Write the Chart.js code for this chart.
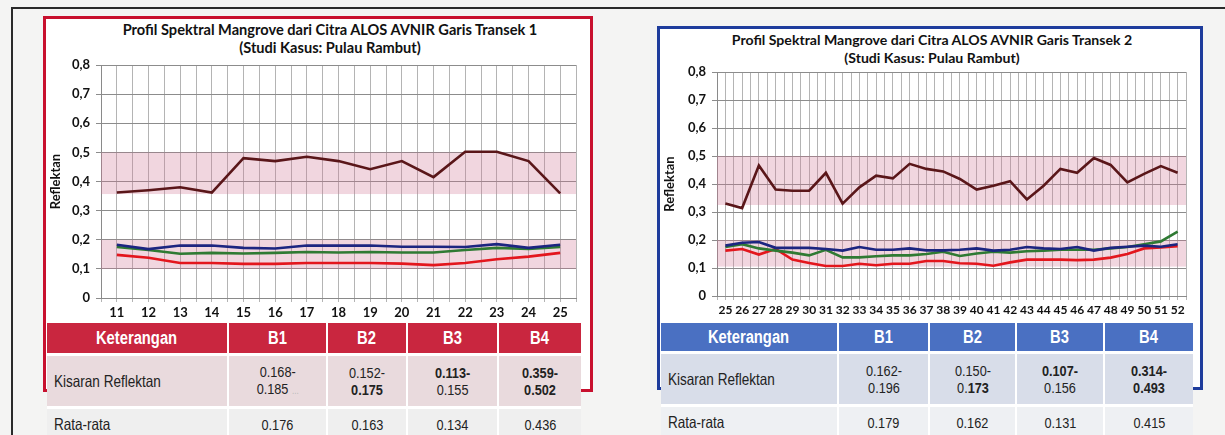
<!DOCTYPE html>
<html><head><meta charset="utf-8">
<script src="https://cdn.jsdelivr.net/npm/chart.js@4"></script>
<style>
html,body{margin:0;padding:0;}
body{width:1225px;height:435px;position:relative;overflow:hidden;background:#f4f4f3;font-family:Lato,"Open Sans",sans-serif;}
.frame{position:absolute;left:11px;top:7px;width:1230px;height:440px;border-left:2px solid #2a2a2a;border-top:2px solid #2a2a2a;}
.box{position:absolute;background:#fff;box-sizing:border-box;}
#box1{left:43px;top:16px;width:550px;height:376px;border:3px solid #c8102e;}
#box2{left:657px;top:26px;width:546px;height:364px;border:3px solid #1e3c9c;}
.cv{position:absolute;}
.title{position:absolute;text-align:center;font-weight:bold;color:#111;line-height:18px;white-space:nowrap;}
.tbl{position:absolute;display:grid;column-gap:2px;row-gap:3px;background:#fff;font-family:"Liberation Sans",Arial,sans-serif;color:#222;}
.tbl > div{display:flex;align-items:center;justify-content:center;text-align:center;font-size:15.5px;line-height:17px;overflow:hidden;}
.tbl > div > span{display:block;transform:scaleX(0.82);white-space:nowrap;}
.tbl .hd{color:#fff;font-weight:bold;font-size:18px;}
.tbl .lb{justify-content:flex-start;padding-left:7px;font-size:16.5px;}
.tbl .lb > span{transform-origin:left center;}
.t1 .hd{background:#c9263f;}
.t1 .r2{background:#e9dadd;}
.t1 .r3{background:#efefef;}
.t2 .hd{background:#4a70c2;}
.t2 .r2{background:#d8dde9;}
.t2 .r3{background:#eef0f3;}
.dots{color:#bbb;font-size:10px;}
</style></head>
<body>
<div class="frame"></div>
<div class="box" id="box1"></div>
<div class="box" id="box2"></div>
<div class="title" style="left:100px;width:460px;top:21px;font-size:14.6px;">Profil Spektral Mangrove dari Citra ALOS AVNIR Garis Transek 1<br>(Studi Kasus: Pulau Rambut)</div>
<div class="title" style="left:702px;width:460px;top:31px;font-size:14.1px;">Profil Spektral Mangrove dari Citra ALOS AVNIR Garis Transek 2<br>(Studi Kasus: Pulau Rambut)</div>
<canvas id="c1" class="cv" style="left:48px;top:22px;" width="540" height="300"></canvas>
<canvas id="c2" class="cv" style="left:662px;top:29px;" width="534" height="293"></canvas>
<div class="tbl t1" id="t1" style="left:47px;top:323px;grid-template-columns:180px 97px 78px 89px 82px;grid-template-rows:30px 50px 30px;"></div>
<div class="tbl t2" id="t2" style="left:661px;top:323px;grid-template-columns:176px 89px 85px 86px 88px;grid-template-rows:28px 50px 30px;"></div>
<script>
// ---------- data ----------
const categories1 = [11,12,13,14,15,16,17,18,19,20,21,22,23,24,25];
const b1_t1 = [0.183,0.168,0.180,0.180,0.172,0.170,0.180,0.180,0.180,0.176,0.176,0.175,0.185,0.172,0.183];
const b2_t1 = [0.175,0.165,0.152,0.155,0.153,0.155,0.158,0.156,0.158,0.156,0.156,0.165,0.172,0.168,0.175];
const b3_t1 = [0.148,0.138,0.120,0.120,0.117,0.117,0.120,0.120,0.120,0.118,0.113,0.120,0.133,0.142,0.155];
const b4_t1 = [0.362,0.370,0.380,0.362,0.480,0.470,0.485,0.470,0.442,0.470,0.415,0.502,0.502,0.470,0.359];

const categories2 = [25,26,27,28,29,30,31,32,33,34,35,36,37,38,39,40,41,42,43,44,45,46,47,48,49,50,51,52];
const b1_t2 = [0.180,0.190,0.193,0.172,0.172,0.172,0.168,0.162,0.175,0.165,0.165,0.170,0.163,0.163,0.165,0.170,0.162,0.165,0.175,0.170,0.168,0.175,0.162,0.172,0.176,0.180,0.176,0.185];
const b2_t2 = [0.175,0.185,0.170,0.162,0.155,0.145,0.165,0.138,0.138,0.142,0.145,0.145,0.150,0.158,0.143,0.152,0.158,0.155,0.160,0.162,0.165,0.165,0.165,0.170,0.175,0.185,0.195,0.230];
const b3_t2 = [0.162,0.168,0.148,0.168,0.130,0.118,0.107,0.107,0.115,0.110,0.115,0.115,0.125,0.125,0.117,0.115,0.108,0.120,0.130,0.130,0.130,0.128,0.130,0.137,0.150,0.170,0.173,0.178];
const b4_t2 = [0.330,0.314,0.466,0.380,0.376,0.376,0.440,0.330,0.388,0.430,0.420,0.472,0.454,0.445,0.418,0.380,0.394,0.410,0.345,0.394,0.454,0.440,0.493,0.468,0.406,0.436,0.464,0.440];

const yTickLabels = ['0','0,1','0,2','0,3','0,4','0,5','0,6','0,7','0,8'];
const bands1 = [[0.100,0.200],[0.357,0.500]];
const bands2 = [[0.105,0.200],[0.325,0.500]];

const seriesNames = ['B1','B2','B3','B4'];
const seriesColors = ['#1c2580','#2f7a33','#e3161d','#5a1619'];

const tableHeader = ['Keterangan','B1','B2','B3','B4'];
const rowLabels = ['Kisaran Reflektan','Rata-rata'];
const rangeLo1 = ['0.168-','0.152-','<b>0.113-</b>','<b>0.359-</b>'];
const rangeHi1 = ['0.185 <span class="dots">...</span>','<b>0.175</b>','0.155','<b>0.502</b>'];
const mean1 = ['0.176','0.163','0.134','0.436'];
const rangeLo2 = ['0.162-','0.150-','<b>0.107-</b>','<b>0.314-</b>'];
const rangeHi2 = ['0.196','0.<b>173</b>','0.156','<b>0.493</b>'];
const mean2 = ['0.179','0.162','0.131','0.415'];

// ---------- tables ----------
function buildTable(id, lo, hi, mean){
  const el = document.getElementById(id);
  let h = '';
  tableHeader.forEach(t => h += '<div class="hd"><span>'+t+'</span></div>');
  h += '<div class="r2 lb"><span>'+rowLabels[0]+'</span></div>';
  lo.forEach((v,i) => h += '<div class="r2"><span>'+v+'<br>'+hi[i]+'</span></div>');
  h += '<div class="r3 lb"><span>'+rowLabels[1]+'</span></div>';
  mean.forEach(v => h += '<div class="r3"><span>'+v+'</span></div>');
  el.innerHTML = h;
}
buildTable('t1', rangeLo1, rangeHi1, mean1);
buildTable('t2', rangeLo2, rangeHi2, mean2);

// ---------- charts ----------
const bandPlugin = {
  id:'bands',
  beforeDatasetsDraw(chart, args, opts){
    const {ctx, chartArea:a, scales:{y}} = chart;
    ctx.save();
    ctx.fillStyle = 'rgba(210,120,150,0.30)';
    (opts.ranges||[]).forEach(([lo,hi]) => {
      const t = y.getPixelForValue(hi), b = y.getPixelForValue(lo);
      ctx.fillRect(a.left, t, a.right - a.left, b - t);
    });
    ctx.restore();
  }
};

function makeChart(id, cats, series, bands, o){
  const datasets = series.map((s,i) => ({
    label: seriesNames[i],
    data: cats.map((c,j) => ({x:c, y:s[j]})),
    borderColor: seriesColors[i],
    borderWidth: 2.6,
    pointRadius: 0,
    tension: 0,
    fill: false
  }));
  return new Chart(document.getElementById(id), {
    type:'line',
    data:{datasets},
    plugins:[bandPlugin],
    options:{
      responsive:false, animation:false, events:[],
      layout:{padding:{top:o.padTop, right:o.padRight, bottom:0, left:0}},
      plugins:{legend:{display:false}, tooltip:{enabled:false}, bands:{ranges:bands}},
      scales:{
        x:{type:'linear', min:cats[0]-0.5, max:cats[cats.length-1]+0.5,
           afterFit(s){ s.height = o.xh; },
           afterBuildTicks(s){ const t=[]; for(let v=cats[0]-0.5; v<=cats[cats.length-1]+0.51; v+=0.5) t.push({value:v}); s.ticks=t; },
           ticks:{autoSkip:false, maxRotation:0, padding:3, color:'#111',
             font:{family:'Lato', size:o.xFont, weight:'bold'},
             callback:(v)=> Number.isInteger(v) ? String(v) : ''},
           grid:{color:'#b4b4b4', lineWidth:1, tickLength:4, drawTicks:true},
           border:{color:'#8a8a8a', width:1}},
        y:{min:0, max:0.8,
           afterFit(s){ s.width = o.yw; },
           ticks:{stepSize:0.1, padding:6, color:'#111',
             font:{family:'Lato', size:13, weight:'bold'},
             callback:(v)=> yTickLabels[Math.round(v*10)]},
           grid:{color:'#8c8c8c', lineWidth:1, tickLength:5},
           border:{color:'#8a8a8a', width:1},
           title:{display:true, text:'Reflektan', color:'#111', padding:{top:0,bottom:1},
             font:{family:'Lato', size:13, weight:'bold'}}}
      }
    }
  });
}

makeChart('c1', categories1, [b1_t1,b2_t1,b3_t1,b4_t1], bands1, {padTop:43, padRight:12, xh:24, yw:53, xFont:13});
makeChart('c2', categories2, [b1_t2,b2_t2,b3_t2,b4_t2], bands2, {padTop:43, padRight:10, xh:26, yw:55, xFont:12});
</script>
</body></html>
